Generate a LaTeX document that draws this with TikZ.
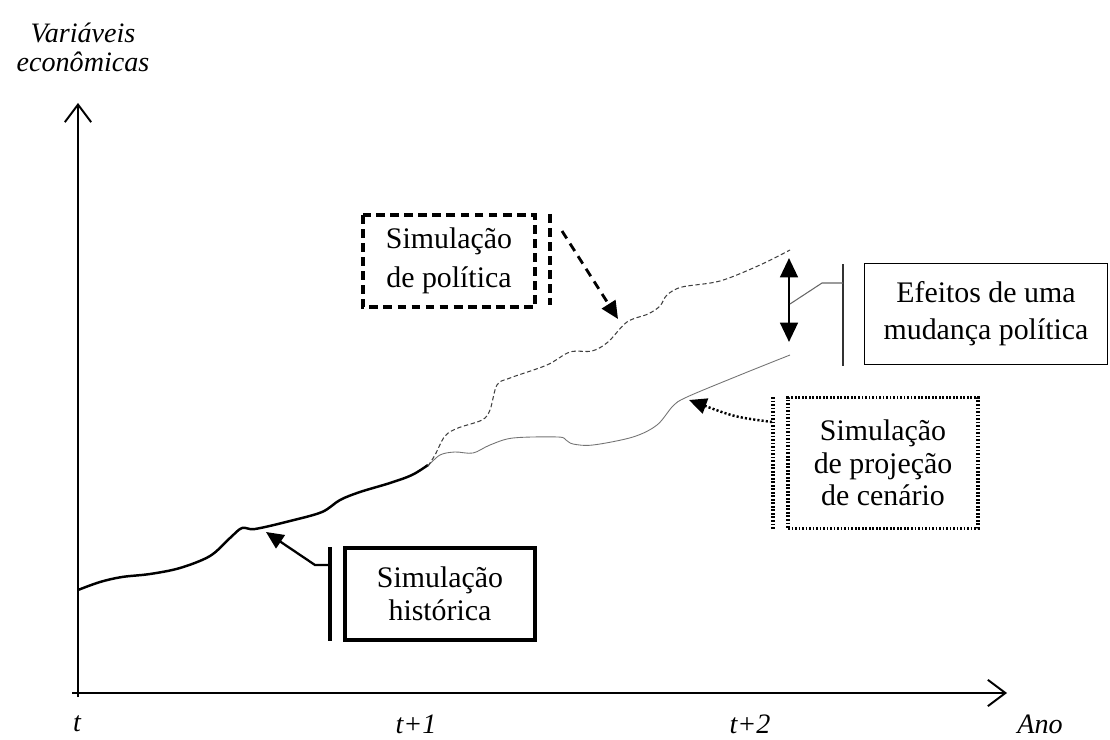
\documentclass[tikz,border=0pt]{standalone}
\usepackage{fontspec}
\setmainfont{Liberation Serif}
\usetikzlibrary{arrows.meta}
\tikzset{
  lbl/.style={font=\fontsize{17}{20}\selectfont, align=center, inner sep=0pt},
  ilbl/.style={font=\fontsize{16}{17}\selectfont\itshape, align=center, inner sep=0pt},
  axis/.style={line width=1.1pt, -{Straight Barb[length=10pt,width=15pt,line width=1.1pt]}},
  hist/.style={line width=1.4pt, line join=round},
  scen/.style={line width=0.5pt, draw=black!55},
  pol/.style={line width=0.6pt, draw=black!75, dash pattern=on 2.5pt off 1.5pt},
  tri/.style={-{Triangle[length=10pt,width=9pt]}},
  dashbox/.style={line width=2.4pt, dash pattern=on 5pt off 3pt},
  dotbox/.style={line width=2pt, dash pattern=on 1pt off 1pt},
}
\begin{document}
\begin{tikzpicture}[x=0.02cm,y=-0.02cm]
\useasboundingbox (0,0) rectangle (1110,740);
% axes
\coordinate (Ybot) at (78,697);
\coordinate (Ytop) at (78,103);
\coordinate (Xbeg) at (72,693);
\coordinate (Xend) at (1007,693);
\draw[axis] (Ybot) -- (Ytop);
\draw[axis] (Xbeg) -- (Xend);
\node[ilbl] (yl1) at (83,33) {Variáveis};
\node[ilbl] (yl2) at (83,62) {econômicas};
\node[ilbl] (t0) at (77,724) {t};
\node[ilbl] (t1) at (416,724) {t+1};
\node[ilbl] (t2) at (750,724) {t+2};
\node[ilbl] (ano) at (1040,724) {Ano};
% curves
\draw[hist] plot[smooth, tension=0.55] coordinates {(78,590) (100,582) (122,577) (150,574) (180,568) (210,556) (230,538) (242,528) (255,529) (290,521) (322,512) (340,500) (360,492) (390,483) (412,475) (428,465)};
\draw[scen] plot[smooth, tension=0.55] coordinates {(428,466) (440,455) (455,452) (473,453) (490,445) (513,438) (558,437) (566,440) (573,444) (593,445) (633,437) (657,425) (673,406) (687,397) (740,375) (790,355)};
\draw[pol] plot[smooth, tension=0.55] coordinates {(428,466) (435,455) (445,436) (458,428) (482,420) (490,410) (497,385) (510,378) (547,365) (570,352) (592,351) (608,342) (627,322) (648,314) (660,306) (667,295) (682,287) (720,281) (760,265) (790,250)};
% double arrow
\coordinate (da1) at (789,258);
\coordinate (da2) at (789,342);
\draw[line width=1.6pt, {Triangle[length=11pt,width=10pt]}-{Triangle[length=11pt,width=10pt]}] (da1) -- (da2);
% policy box
\draw[dashbox] (363,215) rectangle (535,307);
\node[lbl, font=\fontsize{17}{22}\selectfont] (poltext) at (449,261) {Simulação\\de política};
\coordinate (polbar1) at (550,214);
\coordinate (polbar2) at (550,305);
\draw[dashbox] (polbar1) -- (polbar2);
\coordinate (polstart) at (562,231);
\coordinate (poltip) at (618,319);
\draw[line width=1.6pt, dash pattern=on 5pt off 3.5pt, tri] (polstart) -- (poltip);
% effects box
\node[lbl, draw, line width=0.6pt, minimum width=243*0.02cm, minimum height=101*0.02cm, font=\fontsize{17}{21}\selectfont] (eff) at (986,314) {Efeitos de uma\\mudança política};
\coordinate (effb1) at (843,264);
\coordinate (effb2) at (843,366);
\draw[line width=0.8pt, draw=black!80] (effb1) -- (effb2);
\coordinate (effmid) at (790,304);
\coordinate (effk) at (822,283);
\coordinate (effj) at (843,283);
\draw[line width=0.6pt, draw=black!60] (effmid) -- (effk) -- (effj);
% scenario box
\node[lbl, draw, dotbox, minimum width=190*0.02cm, minimum height=131*0.02cm, font=\fontsize{17}{18.5}\selectfont] (scn) at (883,463) {Simulação\\de projeção\\de cenário};
\coordinate (scb1) at (773,397);
\coordinate (scb2) at (773,529);
\draw[dotbox] (scb1) -- (scb2);
\coordinate (scstart) at (772,422);
\coordinate (sctip) at (689,400);
\draw[line width=1.4pt, dash pattern=on 1.2pt off 1.2pt, tri] (scstart) .. controls (735,417) .. (sctip);
% historical box
\node[lbl, draw, line width=2.2pt, minimum width=190*0.02cm, minimum height=92*0.02cm, font=\fontsize{17}{18.5}\selectfont] (hist) at (440,594) {Simulação\\histórica};
\coordinate (hb1) at (330,547);
\coordinate (hb2) at (330,641);
\draw[line width=2.2pt] (hb1) -- (hb2);
\coordinate (hstart) at (330,565);
\coordinate (hk) at (315,565);
\coordinate (htip) at (266,532);
\draw[line width=1.3pt, tri] (hstart) -- (hk) -- (htip);
\end{tikzpicture}
\end{document}
